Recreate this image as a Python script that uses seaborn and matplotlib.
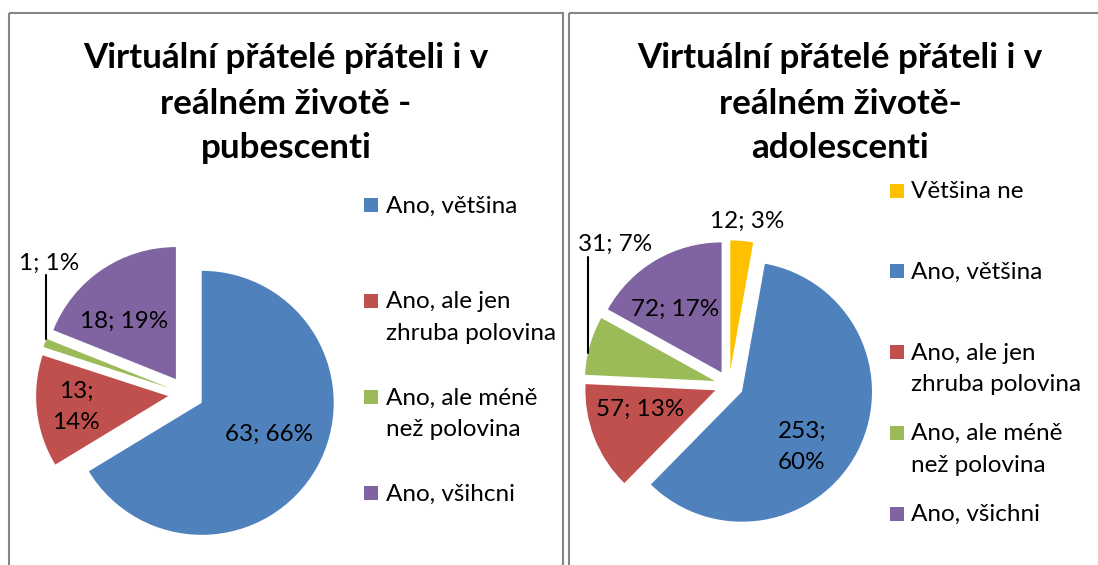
import numpy as np
import pandas as pd
import matplotlib
matplotlib.use("Agg")
import matplotlib.pyplot as plt
import seaborn as sns
from matplotlib.patches import Rectangle

# ---------------- data ----------------
pub_title = "Virtuální přátelé přáteli i v\nreálném životě -\npubescenti"
pub_categories = ["Ano, většina", "Ano, ale jen\nzhruba polovina",
                  "Ano, ale méně\nnež polovina", "Ano, všihcni"]
pub_values = [63, 13, 1, 18]

ado_title = "Virtuální přátelé přáteli i v\nreálném životě-\nadolescenti"
ado_categories = ["Většina ne", "Ano, většina", "Ano, ale jen\nzhruba polovina",
                  "Ano, ale méně\nnež polovina", "Ano, všichni"]
ado_values = [12, 253, 57, 31, 72]

# ---------------- style ----------------
sns.set_theme(style="white")
plt.rcParams["font.family"] = ["Lato", "DejaVu Sans"]

BLUE, RED, GREEN, PURPLE, YELLOW = sns.color_palette(
    ["#4F81BD", "#C0504D", "#9BBB59", "#8064A2", "#FFC000"])
pub_colors = [BLUE, RED, GREEN, PURPLE]
ado_colors = [YELLOW, BLUE, RED, GREEN, PURPLE]

W, H = 1098, 565
fig = plt.figure(figsize=(W / 100, H / 100), dpi=100)
ax = fig.add_axes([0, 0, 1, 1])

TITLE_FS = 25.2
TEXT_FS = 17.5
FRAME_COLOR = "#868686"
TITLE_STEP = 45
LEG_LINE_STEP = 31.8

panels = [
    dict(title=pub_title, cats=pub_categories, vals=pub_values, colors=pub_colors,
         frame=(9, 13, 554, 700), title_x=286, title_y=68.5,
         center=(186, 394), radius=132, explode=18,
         seps=["; ", ";\n", "; ", "; "],
         lab_off=[-4.5, 0, 26.2, -7.5], lab_rad=[0.562, 0.70, 1.313, 0.59],
         leader=(2, 1.8),
         leg_x=364, leg_y=205, leg_step=96),
    dict(title=ado_title, cats=ado_categories, vals=ado_values, colors=ado_colors,
         frame=(569, 13, 700, 700), title_x=840, title_y=68.5,
         center=(729, 385), radius=130, explode=14.6,
         seps=["; ", ";\n", "; ", "; ", "; "],
         lab_off=[1.5, 15.5, 7.4, 37.8, -5.8], lab_rad=[1.158, 0.628, 0.593, 1.30, 0.605],
         leader=(3, -3.6),
         leg_x=889.5, leg_y=190.7, leg_step=80.7),
]

for p in panels:
    fx, fy, fw, fh = p["frame"]
    ax.add_patch(Rectangle((fx, fy), fw, fh, fill=False, edgecolor=FRAME_COLOR,
                           linewidth=1.5, zorder=1))
    vals = np.asarray(p["vals"], dtype=float)
    df = pd.DataFrame({"cat": p["cats"], "val": vals})
    df["pct"] = (100 * df["val"] / df["val"].sum()).round().astype(int)

    wedges, _ = ax.pie(df["val"], colors=p["colors"], startangle=-90, counterclock=True,
                       radius=p["radius"], center=p["center"],
                       explode=[p["explode"]] * len(df),
                       wedgeprops=dict(linewidth=0))

    R = p["radius"]
    for i, (w, row) in enumerate(zip(wedges, df.itertuples())):
        tm = 0.5 * (w.theta1 + w.theta2)
        th = np.deg2rad(tm + p["lab_off"][i])
        cx, cy = w.center
        lx = cx + p["lab_rad"][i] * R * np.cos(th)
        ly = cy + p["lab_rad"][i] * R * np.sin(th)
        txt = f"{int(row.val)}{p['seps'][i]}{row.pct}%"
        ax.text(lx, ly, txt, ha="center", va="center", fontsize=TEXT_FS,
                color="black", linespacing=1.62, zorder=5)
        if p["leader"][0] == i:
            ta = np.deg2rad(tm + p["leader"][1])
            axp = cx + R * np.cos(ta)
            ayp = cy + R * np.sin(ta)
            ax.plot([axp, axp], [ayp, ly + 12], color="black", linewidth=1.5, zorder=5)

    for j, line in enumerate(p["title"].split("\n")):
        ax.text(p["title_x"], p["title_y"] + j * TITLE_STEP, line, ha="center",
                va="baseline", fontsize=TITLE_FS, fontweight="bold", color="black")

    for i, (cat, col) in enumerate(zip(p["cats"], p["colors"])):
        y = p["leg_y"] + i * p["leg_step"]
        ax.add_patch(Rectangle((p["leg_x"], y - 7), 14, 14, facecolor=col,
                               edgecolor="none"))
        for j, line in enumerate(cat.split("\n")):
            ax.text(p["leg_x"] + 21.5, y + 7.5 + j * LEG_LINE_STEP, line, ha="left",
                    va="baseline", fontsize=TEXT_FS, color="black")

ax.set_aspect("auto")
ax.set_xlim(0, W)
ax.set_ylim(H, 0)
ax.axis("off")

fig.savefig("out.png", dpi=100, facecolor="white")
